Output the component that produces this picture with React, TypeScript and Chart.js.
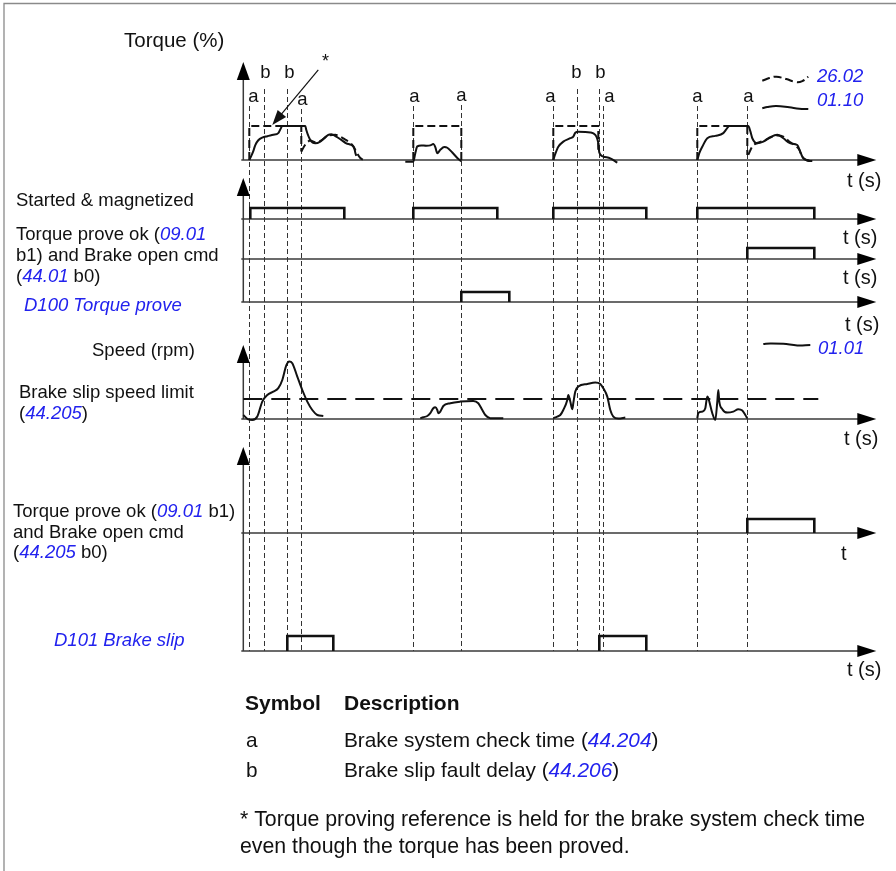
import React, { useEffect, useRef } from "react";
import { Chart, registerables } from "chart.js";

Chart.register(...registerables);

type Pt = [number, number];

// ---------------- DATA ----------------
// time axis: 0 = y-axes origin (arbitrary time units)
const MARKER_TIMES = [6, 21, 44, 58, 170, 218, 310, 334, 356, 360, 454, 504];
const MARKER_LABELS = ["a", "b", "b", "a", "a", "a", "a", "b", "b", "a", "a", "a"];

// Torque (%) — actual torque 01.10 (solid)
const TORQUE_ACT_1: Pt[] = [[6, 0], [8, 12], [10, 26], [12, 44], [15, 58], [19, 66], [24, 70], [30, 74], [35, 79], [37, 90], [39, 100], [62, 100], [63, 88], [67, 59], [72, 49], [77, 54], [85, 74], [88, 76], [93, 69], [98, 59], [103, 49], [108, 44], [111, 35], [112, 21], [113, 12]];
const TORQUE_ACT_2: Pt[] = [[162, -5], [170, -5], [172, 20], [174, 40], [178, 43], [183, 42], [187, 43], [190, 47], [192, 38], [194, 20], [197, 30], [201, 38], [204, 36], [209, 22], [214, 6], [218, -4]];
const TORQUE_ACT_3: Pt[] = [[310, 0], [312, 18], [315, 39], [320, 54], [327, 64], [330, 69], [332, 80], [335, 83], [347, 81], [352, 74], [354, 62], [355, 49], [356, 22], [360, 10], [367, 5], [374, -8]];
const TORQUE_ACT_4: Pt[] = [[454, 0], [456, 20], [459, 39], [464, 64], [472, 71], [480, 79], [483, 90], [486, 100], [505, 100], [507, 85], [509, 64], [514, 49], [520, 54], [527, 67], [534, 74], [540, 64], [547, 49], [554, 44], [557, 24], [559, 10], [564, -2], [569, -3]];
// Torque reference 26.02 (dashed)
const TORQUE_REF_HOLD_1: Pt[] = [[6, 0], [6, 100], [58, 100], [58, 25]];
const TORQUE_REF_TAIL_1: Pt[] = [[58, 25], [62, 45], [67, 57], [72, 52], [77, 56], [85, 72], [92, 74], [97, 69], [102, 60], [107, 50], [110, 40], [113, 24], [117, 6], [120, 0]];
const TORQUE_REF_HOLD_2: Pt[] = [[170, 0], [170, 100], [218, 100], [218, 0]];
const TORQUE_REF_HOLD_3: Pt[] = [[310, 0], [310, 100], [355, 100], [355, 30]];
const TORQUE_REF_HOLD_4: Pt[] = [[454, 0], [454, 100], [504, 100], [504, 15]];
const TORQUE_REF_TAIL_4: Pt[] = [[505, 15], [509, 40], [514, 50], [520, 56], [527, 66], [534, 72], [540, 69], [547, 52], [552, 42], [556, 30], [559, 8], [564, 0], [567, -2]];
// legend samples
const LEGEND_REF_SAMPLE: Pt[] = [[519, 233], [526, 241], [533, 245], [543, 238], [553, 229], [559, 232], [565, 245]];
const LEGEND_ACT_SAMPLE: Pt[] = [[519, 152], [524, 156], [533, 159], [546, 155], [556, 151], [565, 150]];
const LEGEND_SPEED_SAMPLE: Pt[] = [[520, 375], [527, 378], [540, 376], [554, 368], [567, 370]];

// Speed (rpm) 01.01
const SPEED_1: Pt[] = [[0, 20], [5, -2], [9, -5], [14, 12], [19, 87], [24, 120], [30, 137], [35, 154], [39, 195], [43, 268], [46, 288], [49, 279], [54, 212], [59, 145], [64, 87], [69, 45], [74, 20], [80, 15]];
const SPEED_2: Pt[] = [[177, 4], [180, 9], [184, 15], [187, 29], [190, 54], [192, 59], [194, 45], [195, 29], [197, 37], [200, 65], [207, 79], [217, 87], [230, 90], [235, 79], [239, 45], [242, 20], [247, 4], [260, 4]];
const SPEED_3: Pt[] = [[310, 4], [314, 12], [317, 20], [320, 45], [324, 95], [325, 120], [327, 87], [329, 49], [330, 79], [332, 137], [335, 162], [344, 175], [352, 182], [357, 175], [360, 154], [364, 112], [367, 45], [370, 12], [375, 2], [382, 7]];
const SPEED_4: Pt[] = [[454, 4], [455, 29], [459, 37], [462, 54], [464, 112], [465, 104], [469, 29], [472, -5], [474, 87], [475, 145], [476, 87], [479, 49], [484, 32], [490, 37], [495, 49], [499, 42], [502, 20], [504, 4]];
const SPEED_LIMIT = 100; // 44.205
const SPEED_LIMIT_SPAN: Pt = [0, 575];

// binary signals: [start, end] of high state
const STARTED_MAGNETIZED: Pt[] = [[7, 101], [170, 254], [310, 403], [454, 571]];
const TORQUE_PROVE_OK: Pt[] = [[504, 571]];
const D100_TORQUE_PROVE: Pt[] = [[218, 266]];
const TORQUE_PROVE_OK_BRAKE: Pt[] = [[504, 571]];
const D101_BRAKE_SLIP: Pt[] = [[44, 90], [356, 403]];

// "*" annotation arrow (time, torque %)
const ANNOT_FROM: Pt = [75, 265];
const ANNOT_TO: Pt = [29, 103];

// ---------------- LAYOUT / STYLE ----------------
const W = 896;
const H = 871;
const ORIGIN_PX = 243.3;
const T_MIN = -ORIGIN_PX;
const T_MAX = W - ORIGIN_PX;
const T_ARROW = 633;
const FONT = "'Liberation Sans', Arial, Helvetica, sans-serif";
const INK = "#111";
const AXIS_INK = "#3a3a3a";
const BLUE = "#2222ee";

const AXES: Record<string, { base: number; ppu: number }> = {
  yTq: { base: 160, ppu: 0.34 },
  ySM: { base: 219, ppu: 11 },
  yTP: { base: 259, ppu: 11 },
  yD100: { base: 302, ppu: 10 },
  ySp: { base: 419, ppu: 0.2 },
  yBO: { base: 533, ppu: 14 },
  yD101: { base: 651, ppu: 15 },
};
const VERTICAL_AXES = [
  { axis: "yTq", tip: 62 },
  { axis: "yD100", tip: 178 },
  { axis: "ySp", tip: 345 },
  { axis: "yD101", tip: 447 },
];
const MARKER_DX = [4, 1, 2, 1, 1, 0, -3, -1, 1, 6, 0, 1];
const MARKER_Y = [97, 73, 73, 100, 97, 96, 97, 73, 73, 97, 97, 97];

type Run = [string, boolean];
type Label = { x: number; y: number; size: number; bold?: boolean; runs: Run[] };
const LABELS: Label[] = [
  { x: 124, y: 41, size: 20.5, runs: [["Torque (%)", false]] },
  { x: 16, y: 201, size: 18.5, runs: [["Started & magnetized", false]] },
  { x: 16, y: 235, size: 18.5, runs: [["Torque prove ok (", false], ["09.01", true]] },
  { x: 16, y: 256, size: 18.5, runs: [["b1) and Brake open cmd", false]] },
  { x: 16, y: 277, size: 18.5, runs: [["(", false], ["44.01", true], [" b0)", false]] },
  { x: 24, y: 306, size: 18.5, runs: [["D100 Torque prove", true]] },
  { x: 92, y: 351, size: 18.5, runs: [["Speed (rpm)", false]] },
  { x: 19, y: 393, size: 18.5, runs: [["Brake slip speed limit", false]] },
  { x: 19, y: 414, size: 18.5, runs: [["(", false], ["44.205", true], [")", false]] },
  { x: 13, y: 512, size: 18.5, runs: [["Torque prove ok (", false], ["09.01", true], [" b1)", false]] },
  { x: 13, y: 533, size: 18.5, runs: [["and Brake open cmd", false]] },
  { x: 13, y: 553, size: 18.5, runs: [["(", false], ["44.205", true], [" b0)", false]] },
  { x: 54, y: 641, size: 18.5, runs: [["D101 Brake slip", true]] },
  { x: 817, y: 77, size: 18.5, runs: [["26.02", true]] },
  { x: 817, y: 101, size: 18.5, runs: [["01.10", true]] },
  { x: 818, y: 349, size: 18.5, runs: [["01.01", true]] },
  { x: 322, y: 62, size: 18, runs: [["*", false]] },
  { x: 847, y: 181, size: 20, runs: [["t (s)", false]] },
  { x: 843, y: 238, size: 20, runs: [["t (s)", false]] },
  { x: 843, y: 278, size: 20, runs: [["t (s)", false]] },
  { x: 845, y: 325, size: 20, runs: [["t (s)", false]] },
  { x: 844, y: 439, size: 20, runs: [["t (s)", false]] },
  { x: 841, y: 554, size: 20, runs: [["t", false]] },
  { x: 847, y: 670, size: 20, runs: [["t (s)", false]] },
  { x: 245, y: 704, size: 21, bold: true, runs: [["Symbol", false]] },
  { x: 344, y: 704, size: 21, bold: true, runs: [["Description", false]] },
  { x: 246, y: 741, size: 20.8, runs: [["a", false]] },
  { x: 344, y: 741, size: 20.8, runs: [["Brake system check time (", false], ["44.204", true], [")", false]] },
  { x: 246, y: 771, size: 20.8, runs: [["b", false]] },
  { x: 344, y: 771, size: 20.8, runs: [["Brake slip fault delay (", false], ["44.206", true], [")", false]] },
  { x: 240, y: 820, size: 21.3, runs: [["* Torque proving reference is held for the brake system check time", false]] },
  { x: 240, y: 847, size: 21.3, runs: [["even though the torque has been proved.", false]] },
];

// ---------------- helpers ----------------
function axisFor(base: number, ppu: number) {
  return { type: "linear" as const, display: false, bounds: "data" as const, min: -(H - base) / ppu, max: base / ppu };
}

function line(data: Pt[], yAxisID: string, opts: Record<string, unknown> = {}) {
  return {
    data: data.map(([x, y]) => ({ x, y })),
    xAxisID: "x",
    yAxisID,
    borderColor: INK,
    borderWidth: 2,
    pointRadius: 0,
    fill: false,
    tension: 0,
    ...opts,
  };
}
const smooth = { cubicInterpolationMode: "monotone" };
const dashed = { borderDash: [8, 4] };
function pulses(list: Pt[], axis: string) {
  return list.map(([s, e]) => line([[s, 0], [s, 1], [e, 1], [e, 0]], axis, { borderWidth: 2.6, borderJoinStyle: "miter" }));
}

function drawRuns(ctx: CanvasRenderingContext2D, l: Label) {
  let cx = l.x;
  ctx.textBaseline = "middle";
  ctx.textAlign = "left";
  for (const [txt, blue] of l.runs) {
    ctx.font = `${blue ? "italic " : ""}${l.bold ? "bold " : ""}${l.size}px ${FONT}`;
    ctx.fillStyle = blue ? BLUE : INK;
    ctx.fillText(txt, cx, l.y);
    cx += ctx.measureText(txt).width;
  }
}

function tri(ctx: CanvasRenderingContext2D, pts: number[][]) {
  ctx.beginPath();
  ctx.moveTo(pts[0][0], pts[0][1]);
  for (let i = 1; i < pts.length; i++) ctx.lineTo(pts[i][0], pts[i][1]);
  ctx.closePath();
  ctx.fill();
}

const diagramPlugin = {
  id: "diagram",
  beforeDatasetsDraw(chart: any) {
    const ctx: CanvasRenderingContext2D = chart.ctx;
    const xs = chart.scales.x;
    ctx.save();
    // frame
    ctx.strokeStyle = "#8a8a8a";
    ctx.lineWidth = 1.3;
    ctx.beginPath();
    ctx.moveTo(4, H);
    ctx.lineTo(4, 3.5);
    ctx.lineTo(W, 3.5);
    ctx.stroke();

    // guide lines
    const bottom = chart.scales.yD101.getPixelForValue(0);
    ctx.strokeStyle = "#333";
    ctx.lineWidth = 1;
    ctx.setLineDash([5, 3]);
    MARKER_TIMES.forEach((t, i) => {
      const x = Math.round(xs.getPixelForValue(t)) + 0.5;
      const top = MARKER_Y[i] + (MARKER_LABELS[i] === "a" ? 9 : 16);
      ctx.beginPath();
      ctx.moveTo(x, top);
      ctx.lineTo(x, bottom);
      ctx.stroke();
    });
    ctx.setLineDash([]);

    // axes
    const x0 = xs.getPixelForValue(0);
    const xEnd = xs.getPixelForValue(T_ARROW);
    ctx.strokeStyle = AXIS_INK;
    ctx.fillStyle = "#000";
    ctx.lineWidth = 1.5;
    for (const id of Object.keys(AXES)) {
      const y = chart.scales[id].getPixelForValue(0);
      ctx.beginPath();
      ctx.moveTo(x0 - 2, y);
      ctx.lineTo(xEnd - 10, y);
      ctx.stroke();
      tri(ctx, [[xEnd, y], [xEnd - 19, y - 6], [xEnd - 19, y + 6]]);
    }
    for (const v of VERTICAL_AXES) {
      const yb = chart.scales[v.axis].getPixelForValue(0);
      ctx.beginPath();
      ctx.moveTo(x0, yb);
      ctx.lineTo(x0, v.tip + 10);
      ctx.stroke();
      tri(ctx, [[x0, v.tip], [x0 - 6.5, v.tip + 18], [x0 + 6.5, v.tip + 18]]);
    }
    ctx.restore();
  },
  afterDatasetsDraw(chart: any) {
    const ctx: CanvasRenderingContext2D = chart.ctx;
    const xs = chart.scales.x;
    const yq = chart.scales.yTq;
    ctx.save();
    // "*" arrow
    const fx = xs.getPixelForValue(ANNOT_FROM[0]);
    const fy = yq.getPixelForValue(ANNOT_FROM[1]);
    const tx = xs.getPixelForValue(ANNOT_TO[0]);
    const ty = yq.getPixelForValue(ANNOT_TO[1]);
    const ang = Math.atan2(ty - fy, tx - fx);
    ctx.strokeStyle = INK;
    ctx.fillStyle = INK;
    ctx.lineWidth = 1.2;
    ctx.beginPath();
    ctx.moveTo(fx, fy);
    ctx.lineTo(tx - Math.cos(ang) * 10, ty - Math.sin(ang) * 10);
    ctx.stroke();
    const L = 15, Wd = 5.5;
    const bx = tx - Math.cos(ang) * L, by = ty - Math.sin(ang) * L;
    tri(ctx, [[tx, ty], [bx + Math.sin(ang) * Wd, by - Math.cos(ang) * Wd], [bx - Math.sin(ang) * Wd, by + Math.cos(ang) * Wd]]);

    // marker labels
    ctx.font = `18.5px ${FONT}`;
    ctx.fillStyle = INK;
    ctx.textAlign = "center";
    ctx.textBaseline = "middle";
    MARKER_TIMES.forEach((t, i) => {
      ctx.fillText(MARKER_LABELS[i], xs.getPixelForValue(t) + MARKER_DX[i], MARKER_Y[i]);
    });
    for (const l of LABELS) drawRuns(ctx, l);
    ctx.restore();
  },
};

export default function App() {
  const ref = useRef<HTMLCanvasElement | null>(null);
  useEffect(() => {
    const canvas = ref.current;
    if (!canvas) return;
    const scales: Record<string, any> = {
      x: { type: "linear", display: false, bounds: "data", min: T_MIN, max: T_MAX },
    };
    for (const [id, a] of Object.entries(AXES)) scales[id] = axisFor(a.base, a.ppu);

    const datasets: any[] = [
      line(TORQUE_REF_HOLD_1, "yTq", dashed),
      line(TORQUE_REF_TAIL_1, "yTq", { ...dashed, ...smooth }),
      line(TORQUE_REF_HOLD_2, "yTq", dashed),
      line(TORQUE_REF_HOLD_3, "yTq", dashed),
      line(TORQUE_REF_HOLD_4, "yTq", dashed),
      line(TORQUE_REF_TAIL_4, "yTq", { ...dashed, ...smooth }),
      line(TORQUE_ACT_1, "yTq", smooth),
      line(TORQUE_ACT_2, "yTq", smooth),
      line(TORQUE_ACT_3, "yTq", smooth),
      line(TORQUE_ACT_4, "yTq", smooth),
      line(LEGEND_REF_SAMPLE, "yTq", { ...dashed, tension: 0.4 }),
      line(LEGEND_ACT_SAMPLE, "yTq", { tension: 0.4 }),
      line(LEGEND_SPEED_SAMPLE, "ySp", { tension: 0.4 }),
      line([[SPEED_LIMIT_SPAN[0], SPEED_LIMIT], [SPEED_LIMIT_SPAN[1], SPEED_LIMIT]], "ySp", { borderDash: [19, 9] }),
      line(SPEED_1, "ySp", smooth),
      line(SPEED_2, "ySp", smooth),
      line(SPEED_3, "ySp", smooth),
      line(SPEED_4, "ySp", smooth),
      ...pulses(STARTED_MAGNETIZED, "ySM"),
      ...pulses(TORQUE_PROVE_OK, "yTP"),
      ...pulses(D100_TORQUE_PROVE, "yD100"),
      ...pulses(TORQUE_PROVE_OK_BRAKE, "yBO"),
      ...pulses(D101_BRAKE_SLIP, "yD101"),
    ];

    const chart = new Chart(canvas, {
      type: "line",
      data: { datasets },
      options: {
        animation: false,
        responsive: false,
        devicePixelRatio: 1,
        events: [],
        layout: { padding: 0 },
        plugins: { legend: { display: false }, tooltip: { enabled: false }, title: { display: false } },
        scales,
      },
      plugins: [diagramPlugin],
    } as any);
    return () => chart.destroy();
  }, []);

  return (
    <div style={{ position: "absolute", left: 0, top: 0, width: W, height: H, background: "#fff" }}>
      <canvas ref={ref} width={W} height={H} style={{ display: "block", width: W, height: H }} />
    </div>
  );
}
